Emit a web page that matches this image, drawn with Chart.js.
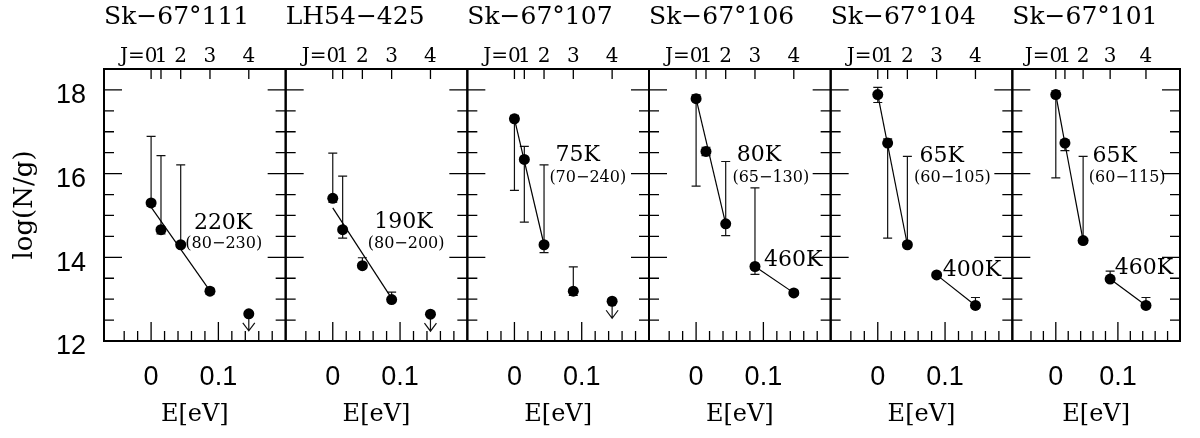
<!DOCTYPE html>
<html>
<head>
<meta charset="utf-8">
<script src="https://cdn.jsdelivr.net/npm/chart.js@4.4.1/dist/chart.umd.min.js"></script>
<style>
  html, body { margin: 0; padding: 0; background: #fff; }
  #wrap { position: relative; width: 1200px; height: 438px; overflow: hidden; }
  #wrap canvas { position: absolute; left: 0; top: 0; }
</style>
</head>
<body>
<div id="wrap"></div>
<script>
// H2 rotational level energies (eV) and their J labels
const levelEnergy = [0, 0.0147, 0.0440, 0.0875, 0.1452];
const levelJ = ['0', '1', '2', '3', '4'];

// Sight lines
const starNames = ['Sk\u221267\u00b0111', 'LH54\u2212425', 'Sk\u221267\u00b0107',
                   'Sk\u221267\u00b0106', 'Sk\u221267\u00b0104', 'Sk\u221267\u00b0101'];

// log(N/g) for J = 0..4
const logNg = [
  [15.30, 14.66, 14.30, 13.19, 12.65],
  [15.41, 14.66, 13.80, 12.99, 12.64],
  [17.31, 16.34, 14.30, 13.19, 12.95],
  [17.79, 16.53, 14.80, 13.78, 13.15],
  [17.89, 16.73, 14.30, 13.58, 12.85],
  [17.89, 16.73, 14.40, 13.48, 12.85]
];
// error bar ends (null = no bar)
const errHigh = [
  [16.89, 16.43, 16.21, 13.26, null],
  [16.49, 15.94, 13.99, 13.17, null],
  [17.39, 16.65, 16.21, 13.77, null],
  [17.88, 16.63, 16.29, 15.66, 13.21],
  [18.06, 16.83, 16.41, 13.63, 13.04],
  [17.98, 16.80, 16.41, 13.67, 13.04]
];
const errLow = [
  [15.22, 14.56, 14.24, 13.12, null],
  [15.32, 14.46, 13.74, 12.95, null],
  [15.60, 14.84, 14.11, 13.09, null],
  [15.70, 16.43, 14.52, 13.59, 13.09],
  [17.70, 14.46, 14.24, 13.53, 12.80],
  [15.90, 16.55, 14.34, 13.43, 12.80]
];
// 1 = upper limit only
const upperLimit = [
  [0, 0, 0, 0, 1],
  [0, 0, 0, 0, 1],
  [0, 0, 0, 0, 1],
  [0, 0, 0, 0, 0],
  [0, 0, 0, 0, 0],
  [0, 0, 0, 0, 0]
];

// low-J excitation fit: first/last J and log(N/g) at both ends
const coolFromJ = [0, 0, 0, 0, 0, 0];
const coolToJ   = [3, 3, 2, 2, 2, 2];
const coolStart = [15.20, 15.18, 17.31, 17.79, 17.89, 17.89];
const coolEnd   = [13.20, 13.02, 14.30, 14.80, 14.30, 14.40];
// high-J fit (J = 3 -> 4)
const warmStart = [null, null, null, 13.78, 13.58, 13.48];
const warmEnd   = [null, null, null, 13.15, 12.85, 12.85];

// excitation temperatures
const coolT     = ['220K', '190K', '75K', '80K', '65K', '65K'];
const coolRange = ['(80\u2212230)', '(80\u2212200)', '(70\u2212240)', '(65\u2212130)', '(60\u2212105)', '(60\u2212115)'];
const warmT     = [null, null, null, '460K', '400K', '460K'];

// where the temperature texts sit, in (E, log N/g)
const coolTSpot     = [[0.107, 14.81], [0.105, 14.84], [0.094, 16.43], [0.0935, 16.43], [0.095, 16.42], [0.095, 16.42]];
const coolRangeSpot = [[0.108, 14.31], [0.109, 14.31], [0.109, 15.90], [0.111, 15.91], [0.111, 15.90], [0.115, 15.90]];
const warmTSpot     = [null, null, null, [0.1445, 13.93], [0.140, 13.69], [0.142, 13.73]];

// ---- layout ----
const W = 1200, H = 438;
const FRAME_LEFT = 104, FRAME_RIGHT = 1194, FRAME_TOP = 69, FRAME_BOTTOM = 341;
const panelW = (FRAME_RIGHT - FRAME_LEFT) / starNames.length;
const SERIF = '"DejaVu Serif", "Liberation Serif", serif';
const SANS = '"Liberation Sans", Arial, Helvetica, sans-serif';
const J_FONT = 20, J_PAD = 0;

const near = (a, b) => Math.abs(a - b) < 1e-6;
const isMajorY = v => near(v / 2, Math.round(v / 2));
const isMajorX = v => near(v / 0.1, Math.round(v / 0.1));
const onStep = (v, s) => near(v / s, Math.round(v / s));

const panelDecor = {
  id: 'panelDecor',
  beforeDatasetsDraw(chart, args, opts) {
    const p = opts.panel;
    const { ctx, chartArea: a, scales } = chart;
    const sx = scales.x, sy = scales.y, st = scales.x2;
    ctx.save();
    ctx.strokeStyle = '#000';
    ctx.lineWidth = 1.3;
    ctx.beginPath();
    // inward ticks, left and right sides
    sy.ticks.forEach(t => {
      const v = t.value;
      if (v <= sy.min + 1e-6 || v >= sy.max - 1e-6 || !onStep(v, 0.5)) return;
      const y = sy.getPixelForValue(v);
      const len = isMajorY(v) ? 18 : 10;
      ctx.moveTo(a.left, y); ctx.lineTo(a.left + len, y);
      ctx.moveTo(a.right, y); ctx.lineTo(a.right - len, y);
    });
    // bottom energy ticks
    sx.ticks.forEach(t => {
      const v = t.value;
      if (v <= sx.min + 1e-6 || v >= sx.max - 1e-6 || !onStep(v, 0.02)) return;
      const x = sx.getPixelForValue(v);
      const len = isMajorX(v) ? 19 : 10;
      ctx.moveTo(x, a.bottom); ctx.lineTo(x, a.bottom - len);
    });
    // top J-level ticks
    st.ticks.forEach(t => {
      const x = st.getPixelForValue(t.value);
      ctx.moveTo(x, a.top); ctx.lineTo(x, a.top + 10);
    });
    ctx.stroke();

    // frame
    ctx.lineWidth = 2;
    ctx.strokeRect(a.left, a.top, a.right - a.left, a.bottom - a.top);

    // error bars and upper-limit arrows
    ctx.lineWidth = 1.2;
    ctx.strokeStyle = '#111';
    ctx.beginPath();
    const cap = 4.5;
    levelEnergy.forEach((e, j) => {
      const x = sx.getPixelForValue(e);
      const y0 = sy.getPixelForValue(logNg[p][j]);
      if (upperLimit[p][j]) {
        ctx.moveTo(x, y0); ctx.lineTo(x, y0 + 17);
        ctx.moveTo(x - 6, y0 + 9); ctx.lineTo(x, y0 + 17); ctx.lineTo(x + 6, y0 + 9);
        return;
      }
      const hi = errHigh[p][j], lo = errLow[p][j];
      const yh = sy.getPixelForValue(hi != null ? hi : logNg[p][j]);
      const yl = sy.getPixelForValue(lo != null ? lo : logNg[p][j]);
      ctx.moveTo(x, yh); ctx.lineTo(x, yl);
      if (hi != null) { ctx.moveTo(x - cap, yh); ctx.lineTo(x + cap, yh); }
      if (lo != null) { ctx.moveTo(x - cap, yl); ctx.lineTo(x + cap, yl); }
    });
    ctx.stroke();
    ctx.restore();
  },
  afterDraw(chart, args, opts) {
    const p = opts.panel;
    const { ctx, chartArea: a, scales } = chart;
    const sx = scales.x, sy = scales.y, st = scales.x2;
    ctx.save();
    ctx.fillStyle = '#000';
    ctx.textBaseline = 'middle';
    ctx.textAlign = 'center';
    const put = (txt, spot, size) => {
      if (!txt || !spot) return;
      ctx.font = size + 'px ' + SERIF;
      ctx.fillText(txt, sx.getPixelForValue(spot[0]), sy.getPixelForValue(spot[1]));
    };
    put(coolT[p], coolTSpot[p], 22);
    put(coolRange[p], coolRangeSpot[p], 16);
    put(warmT[p], warmTSpot[p], 22);

    // "J=" prefix in front of the J = 0 tick label
    ctx.font = J_FONT + 'px ' + SERIF;
    const x0 = st.getPixelForValue(levelEnergy[0]);
    const w0 = ctx.measureText(levelJ[0]).width;
    ctx.textAlign = 'right';
    ctx.fillText('J=', x0 - w0 / 2, a.top - J_PAD - J_FONT * 1.2 / 2);
    ctx.restore();
  }
};

const wrap = document.getElementById('wrap');

starNames.forEach((name, p) => {
  const canvas = document.createElement('canvas');
  canvas.width = W; canvas.height = H;
  canvas.style.width = W + 'px'; canvas.style.height = H + 'px';
  wrap.appendChild(canvas);

  const left = FRAME_LEFT + p * panelW;
  const right = left + panelW;

  const datasets = [{
    type: 'scatter',
    data: levelEnergy.map((e, j) => ({ x: e, y: logNg[p][j] })),
    backgroundColor: '#000',
    borderColor: '#000',
    borderWidth: 0,
    pointRadius: 5.5
  }, {
    type: 'line',
    data: [{ x: levelEnergy[coolFromJ[p]], y: coolStart[p] },
           { x: levelEnergy[coolToJ[p]], y: coolEnd[p] }],
    borderColor: '#000',
    borderWidth: 1.2,
    pointRadius: 0,
    fill: false
  }];
  if (warmStart[p] != null) {
    datasets.push({
      type: 'line',
      data: [{ x: levelEnergy[3], y: warmStart[p] }, { x: levelEnergy[4], y: warmEnd[p] }],
      borderColor: '#000',
      borderWidth: 1.2,
      pointRadius: 0,
      fill: false
    });
  }

  new Chart(canvas, {
    type: 'scatter',
    data: { datasets },
    options: {
      responsive: false,
      animation: false,
      devicePixelRatio: 1,
      events: [],
      layout: { padding: { left: p === 0 ? 0 : left, right: W - right, top: 0, bottom: 0 } },
      plugins: {
        legend: { display: false },
        tooltip: { enabled: false },
        panelDecor: { panel: p }
      },
      scales: {
        x: {
          type: 'linear',
          position: 'bottom',
          min: -0.07,
          max: 0.2,
          grid: { display: false, drawTicks: false },
          border: { display: false },
          ticks: {
            stepSize: 0.02,
            autoSkip: false,
            maxRotation: 0,
            minRotation: 0,
            padding: 20,
            color: '#000',
            font: { family: SANS, size: 27 },
            callback: v => (near(v, 0) ? '0' : near(v, 0.1) ? '0.1' : '')
          },
          title: {
            display: true,
            text: 'E[eV]',
            color: '#000',
            font: { family: SERIF, size: 24 },
            padding: { top: 0, bottom: 9 }
          },
          afterFit: s => { s.height = H - FRAME_BOTTOM; }
        },
        x2: {
          type: 'linear',
          position: 'top',
          min: -0.07,
          max: 0.2,
          grid: { display: false, drawTicks: false },
          border: { display: false },
          afterBuildTicks: s => { s.ticks = levelEnergy.map(v => ({ value: v })); },
          ticks: {
            autoSkip: false,
            maxRotation: 0,
            minRotation: 0,
            padding: J_PAD,
            color: '#000',
            font: { family: SERIF, size: J_FONT },
            callback: (v, i) => levelJ[i]
          },
          title: {
            display: true,
            text: name,
            align: 'start',
            color: '#000',
            font: { family: SERIF, size: 25 },
            padding: { top: 2.5, bottom: 0 }
          },
          afterFit: s => { s.height = FRAME_TOP; }
        },
        y: {
          type: 'linear',
          position: 'left',
          display: p === 0,
          min: 12,
          max: 18.5,
          grid: { display: false, drawTicks: false },
          border: { display: false },
          ticks: {
            stepSize: 0.5,
            autoSkip: false,
            padding: 18,
            labelOffset: 6,
            color: '#000',
            font: { family: SANS, size: 27 },
            callback: v => (isMajorY(v) ? String(Math.round(v)) : '')
          },
          title: {
            display: true,
            text: 'log(N/g)',
            color: '#000',
            font: { family: SERIF, size: 26 },
            padding: { top: 10, bottom: 0 }
          },
          afterFit: s => { if (p === 0) s.width = FRAME_LEFT; }
        }
      }
    },
    plugins: [panelDecor]
  });
});
</script>
</body>
</html>
